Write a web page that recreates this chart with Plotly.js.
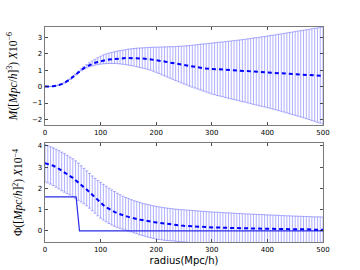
<!DOCTYPE html>
<html><head><meta charset="utf-8">
<script src="https://cdn.plot.ly/plotly-3.0.1.min.js"></script>
<style>html,body{margin:0;padding:0;background:#fff}#chart{width:360px;height:270px}</style>
</head><body><div id="chart"></div>
<script>
const radius = [0,5,10,15,20,25,30,35,40,45,50,55,60,65,70,75,80,85,90,95,
100,105,110,115,120,125,130,135,140,145,150,155,160,165,170,175,180,185,190,195,
200,205,210,215,220,225,230,235,240,245,250,255,260,265,270,275,280,285,290,295,
300,305,310,315,320,325,330,335,340,345,350,355,360,365,370,375,380,385,390,395,
400,405,410,415,420,425,430,435,440,445,450,455,460,465,470,475,480,485,490,495,500];

const massMean = [0.00,0.00,0.01,0.02,0.05,0.09,0.15,0.23,0.33,0.45,
0.59,0.73,0.88,1.01,1.13,1.23,1.32,1.39,1.45,1.50,
1.55,1.59,1.62,1.65,1.67,1.69,1.71,1.72,1.73,1.74,
1.74,1.74,1.74,1.73,1.72,1.71,1.70,1.68,1.66,1.64,
1.62,1.59,1.56,1.53,1.49,1.46,1.42,1.39,1.35,1.32,
1.29,1.26,1.23,1.21,1.18,1.16,1.14,1.12,1.10,1.09,
1.07,1.06,1.05,1.04,1.03,1.02,1.01,1.00,0.99,0.98,
0.97,0.96,0.95,0.94,0.93,0.92,0.90,0.89,0.88,0.87,
0.86,0.85,0.84,0.83,0.82,0.81,0.80,0.79,0.77,0.76,
0.75,0.74,0.73,0.72,0.71,0.70,0.69,0.68,0.67,0.66,0.65];

const massUpper = [0.00,0.00,0.01,0.02,0.05,0.09,0.15,0.23,0.34,0.46,
0.61,0.76,0.93,1.07,1.21,1.33,1.45,1.56,1.66,1.76,
1.85,1.93,1.99,2.04,2.08,2.12,2.16,2.19,2.22,2.25,
2.28,2.30,2.32,2.34,2.35,2.36,2.37,2.38,2.39,2.40,
2.40,2.41,2.41,2.42,2.42,2.43,2.43,2.44,2.45,2.46,
2.47,2.49,2.50,2.52,2.54,2.56,2.58,2.60,2.61,2.63,
2.65,2.67,2.69,2.71,2.72,2.74,2.76,2.78,2.80,2.82,
2.84,2.86,2.88,2.91,2.93,2.96,2.98,3.00,3.03,3.05,
3.08,3.11,3.13,3.16,3.19,3.21,3.24,3.27,3.29,3.32,
3.35,3.38,3.41,3.43,3.46,3.49,3.52,3.55,3.57,3.60,3.63];

const massLower = [0.00,0.00,0.01,0.02,0.05,0.09,0.15,0.23,0.32,0.44,
0.57,0.71,0.85,0.96,1.06,1.14,1.21,1.26,1.31,1.34,
1.37,1.39,1.40,1.41,1.41,1.41,1.40,1.38,1.36,1.34,
1.31,1.28,1.25,1.21,1.17,1.13,1.09,1.05,1.00,0.94,
0.87,0.80,0.72,0.65,0.58,0.51,0.44,0.37,0.30,0.23,
0.16,0.10,0.03,-0.03,-0.09,-0.15,-0.21,-0.27,-0.33,-0.39,
-0.45,-0.49,-0.54,-0.58,-0.62,-0.66,-0.71,-0.75,-0.79,-0.83,
-0.87,-0.91,-0.95,-0.99,-1.04,-1.08,-1.12,-1.16,-1.20,-1.24,
-1.28,-1.32,-1.37,-1.41,-1.46,-1.50,-1.55,-1.60,-1.65,-1.70,
-1.75,-1.80,-1.85,-1.90,-1.95,-2.00,-2.06,-2.11,-2.17,-2.22,-2.28];

const phiMean = [3.18,3.15,3.11,3.06,3.00,2.92,2.84,2.76,2.67,2.58,
2.49,2.38,2.28,2.17,2.06,1.94,1.82,1.69,1.56,1.43,
1.32,1.21,1.12,1.03,0.95,0.89,0.83,0.78,0.74,0.70,
0.66,0.63,0.59,0.56,0.53,0.51,0.48,0.46,0.44,0.42,
0.40,0.38,0.36,0.34,0.32,0.30,0.29,0.27,0.26,0.25,
0.24,0.23,0.22,0.21,0.20,0.20,0.19,0.18,0.18,0.17,
0.17,0.16,0.16,0.15,0.15,0.15,0.14,0.14,0.14,0.13,
0.13,0.13,0.12,0.12,0.12,0.11,0.11,0.11,0.11,0.10,
0.10,0.10,0.10,0.09,0.09,0.09,0.09,0.08,0.08,0.08,
0.08,0.08,0.07,0.07,0.07,0.07,0.07,0.06,0.06,0.06,0.06];

const phiUpper = [4.05,4.00,3.95,3.90,3.84,3.77,3.70,3.63,3.55,3.47,
3.39,3.29,3.18,3.06,2.94,2.82,2.70,2.58,2.47,2.37,
2.28,2.19,2.10,2.01,1.93,1.85,1.77,1.70,1.63,1.57,
1.52,1.47,1.42,1.38,1.34,1.30,1.27,1.24,1.21,1.18,
1.15,1.13,1.11,1.09,1.07,1.05,1.04,1.02,1.01,1.00,
0.99,0.98,0.97,0.96,0.95,0.94,0.93,0.92,0.91,0.90,
0.89,0.88,0.88,0.87,0.86,0.85,0.85,0.84,0.83,0.82,
0.82,0.81,0.80,0.80,0.79,0.78,0.78,0.77,0.77,0.76,
0.75,0.75,0.74,0.74,0.73,0.72,0.72,0.71,0.71,0.70,
0.70,0.69,0.69,0.68,0.68,0.67,0.67,0.66,0.66,0.66,0.65];

const phiLower = [2.30,2.26,2.20,2.13,2.05,1.97,1.89,1.82,1.75,1.69,
1.60,1.52,1.44,1.36,1.28,1.18,1.07,0.95,0.83,0.71,
0.60,0.51,0.43,0.35,0.28,0.22,0.17,0.12,0.08,0.04,
0.00,-0.04,-0.09,-0.13,-0.18,-0.21,-0.25,-0.29,-0.32,-0.35,
-0.38,-0.40,-0.42,-0.44,-0.45,-0.46,-0.47,-0.48,-0.50,-0.51,
-0.52,-0.53,-0.54,-0.54,-0.55,-0.55,-0.56,-0.56,-0.56,-0.56,
-0.56,-0.56,-0.57,-0.57,-0.57,-0.57,-0.57,-0.57,-0.57,-0.57,
-0.57,-0.57,-0.57,-0.57,-0.57,-0.57,-0.57,-0.57,-0.57,-0.57,
-0.57,-0.57,-0.57,-0.57,-0.57,-0.57,-0.57,-0.57,-0.57,-0.57,
-0.57,-0.57,-0.57,-0.57,-0.57,-0.57,-0.57,-0.57,-0.57,-0.57,-0.57];

const phiModelR = [0, 56, 62, 500];
const phiModel = [1.6, 1.6, 0, 0];

const xTicks = [0,100,200,300,400,500];
const massTicks = [-2,-1,0,1,2,3];
const phiTicks = [0,1,2,3,4];

const barColor = 'rgba(95,95,255,0.5)';
const plus = (hi, mid) => hi.map((v, i) => v - mid[i]);

const traces = [
  {x: radius, y: massMean, xaxis:'x', yaxis:'y', type:'scatter', mode:'markers',
   marker:{size:1, opacity:0}, hoverinfo:'skip',
   error_y:{type:'data', symmetric:false, array: plus(massUpper, massMean), arrayminus: plus(massMean, massLower),
            color: barColor, thickness:1, width:1.5}},
  {x: radius, y: massMean, xaxis:'x', yaxis:'y', type:'scatter', mode:'lines',
   line:{color:'#0000ff', width:2, dash:'4px,3px'}},
  {x: radius, y: phiMean, xaxis:'x2', yaxis:'y2', type:'scatter', mode:'markers',
   marker:{size:1, opacity:0}, hoverinfo:'skip',
   error_y:{type:'data', symmetric:false, array: plus(phiUpper, phiMean), arrayminus: plus(phiMean, phiLower),
            color: barColor, thickness:1, width:1.5}},
  {x: phiModelR, y: phiModel, xaxis:'x2', yaxis:'y2', type:'scatter', mode:'lines',
   line:{color:'#2a2ae8', width:1.2}},
  {x: radius, y: phiMean, xaxis:'x2', yaxis:'y2', type:'scatter', mode:'lines',
   line:{color:'#0000ff', width:2, dash:'4px,3px'}}
];

const tickFont = {family:'DejaVu Sans', size:7, color:'#000'};
const axBase = {showgrid:false, zeroline:false, showline:true, mirror:'ticks', linecolor:'#7a7a7a', linewidth:1.3,
  ticks:'inside', ticklen:3, tickwidth:0.8, tickcolor:'#222', tickfont: tickFont};
const titleFont = {family:'Liberation Serif', size:11.5, color:'#000'};

const layout = {
  width:360, height:270, showlegend:false,
  paper_bgcolor:'#fff', plot_bgcolor:'#fff',
  margin:{l:45, r:37, t:27, b:28},
  xaxis: Object.assign({}, axBase, {domain:[0,1], range:[0,500], anchor:'y', tickvals:xTicks}),
  yaxis: Object.assign({}, axBase, {domain:[0.544,1], range:[-2.34,3.63], anchor:'x', tickvals:massTicks,
    title:{text:'<i>M</i>([<i>Mpc</i>/<i>h</i>]<sup>3</sup>) <i>X</i>10<sup>−6</sup>', font:titleFont, standoff:12}}),
  xaxis2: Object.assign({}, axBase, {domain:[0,1], range:[0,500], anchor:'y2', tickvals:xTicks,
    title:{text:'radius(Mpc/h)', font:{family:'DejaVu Sans', size:10, color:'#000'}, standoff:4}}),
  yaxis2: Object.assign({}, axBase, {domain:[0,0.4605], range:[-0.52,4.13], anchor:'x2', tickvals:phiTicks,
    title:{text:'Φ([<i>Mpc</i>/<i>h</i>]<sup>2</sup>) <i>X</i>10<sup>−4</sup>', font:titleFont, standoff:12}})
};

Plotly.newPlot('chart', traces, layout, {staticPlot:true, displayModeBar:false});
</script></body></html>
